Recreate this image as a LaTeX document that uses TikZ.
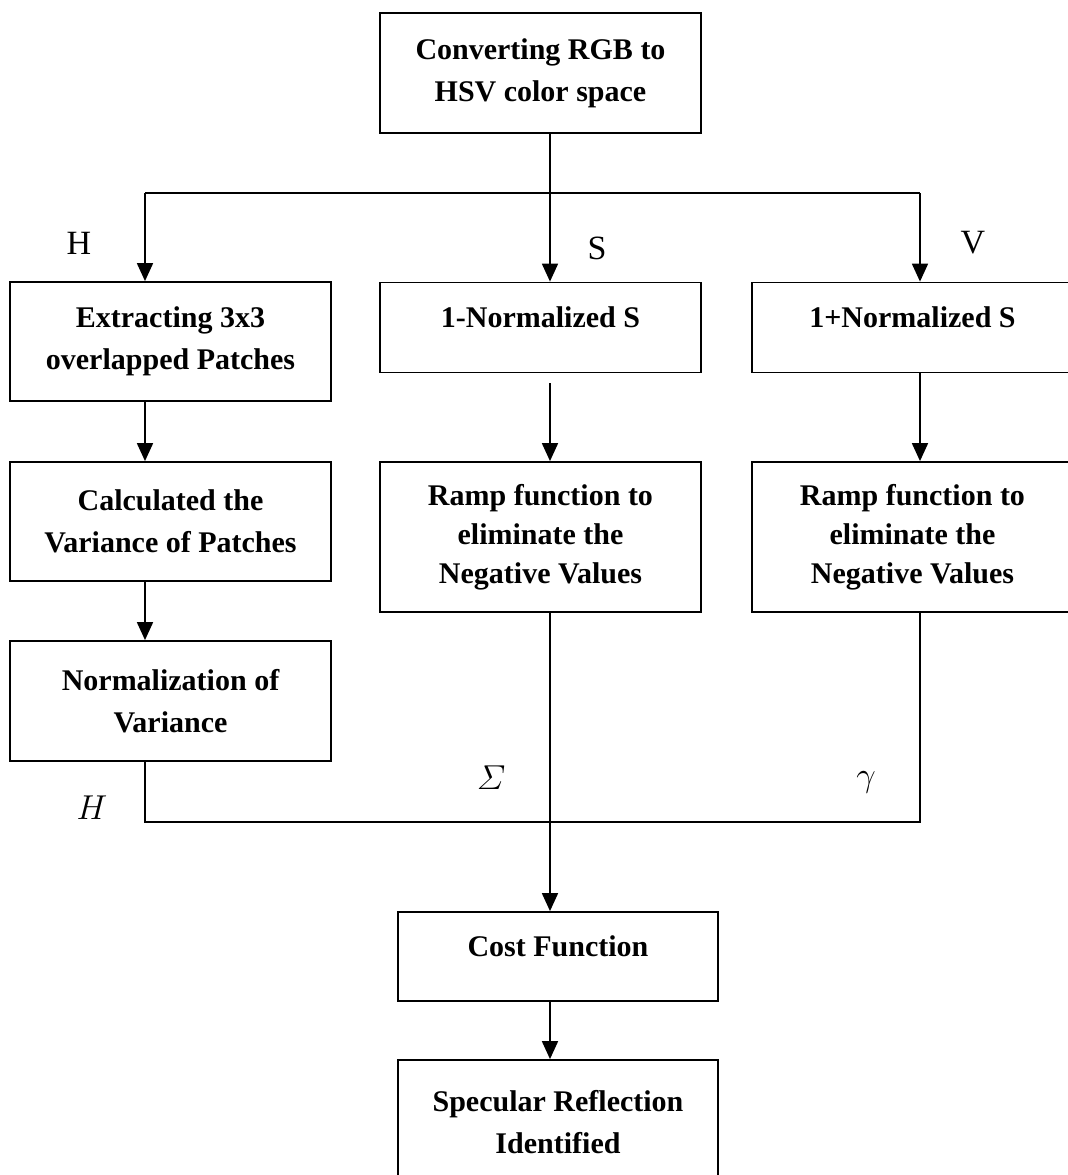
\documentclass[tikz,border=0pt]{standalone}
\usepackage{amsmath}
\usepackage{fontspec}
\setmainfont{Liberation Serif}
\usetikzlibrary{arrows.meta,positioning}

\begin{document}
\begin{tikzpicture}[
    x=0.5pt, y=-0.5pt,
    % Box and connector styles
    stage/.style={draw, line width=0.9pt, minimum width=160.5pt, align=center,
                  font=\fontsize{15}{21}\selectfont\bfseries},
    onebox/.style={stage, text depth=10pt},
    flow/.style={line width=0.9pt},
    arrow/.style={flow, -{Triangle[length=9pt,width=8pt]}},
    chan/.style={font=\fontsize{17}{20}\selectfont}
]

% Page frame
\useasboundingbox (0,0) rectangle (1068,1175);
\clip (0,0) rectangle (1068,1175);

% Boxes
\node[stage, minimum height=60pt] (rgb) at (540.5,73) {Converting RGB to\\HSV color space};
\node[stage, minimum height=59.5pt] (ext) at (170.5,341.5) {Extracting 3x3\\overlapped Patches};
\node[onebox, minimum height=45pt] (nors) at (540.5,327.5) {1-Normalized S};
\node[onebox, minimum height=45pt] (norv) at (912.5,327.5) {1+Normalized S};
\node[stage, minimum height=59.5pt] (calc) at (170.5,521.5) {Calculated the\\Variance of Patches};
\node[stage, minimum height=75pt, font=\fontsize{15}{19.5}\selectfont\bfseries] (ramps) at (540.5,537) {Ramp function to\\eliminate the\\Negative Values};
\node[stage, minimum height=75pt, font=\fontsize{15}{19.5}\selectfont\bfseries] (rampv) at (912.5,537) {Ramp function to\\eliminate the\\Negative Values};
\node[stage, minimum height=60pt] (norm) at (170.5,701) {Normalization of\\Variance};
\node[onebox, minimum width=160pt, minimum height=44.5pt] (cost) at (558,956.5) {Cost Function};
\node[stage, minimum width=160pt, minimum height=62pt] (spec) at (558,1122) {Specular Reflection\\Identified};

% Channel columns and joins
\coordinate (colH) at (145,193);
\coordinate (colS) at (550,193);
\coordinate (colV) at (920,193);
\coordinate (join) at (550,822);

% Split into H, S, V
\draw[flow] (rgb.south -| colS) -- (colS);
\draw[flow] (colH) -- (colV);
\draw[arrow] (colH) -- (colH |- ext.north);
\draw[arrow] (colS) -- (colS |- nors.north);
\draw[arrow] (colV) -- (colV |- norv.north);

% Column flows
\draw[arrow] (ext.south -| colH) -- (calc.north -| colH);
\draw[arrow] (calc.south -| colH) -- (norm.north -| colH);
\draw[arrow, shorten <=5pt] (nors.south -| colS) -- (ramps.north -| colS);
\draw[arrow] (norv.south -| colV) -- (rampv.north -| colV);

% Merge into the cost function
\draw[flow] (norm.south -| colH) -- (colH |- join) -- (colV |- join) -- (rampv.south -| colV);
\draw[arrow] (ramps.south -| colS) -- (cost.north -| colS);
\draw[arrow] (cost.south -| colS) -- (spec.north -| colS);

% Channel labels
\node[chan] (lblH) at (79,243) {H};
\node[chan] (lblS) at (597,248) {S};
\node[chan] (lblV) at (973,243) {V};
\node[chan] (lblSig) at (491,778) {$\varSigma$};
\node[chan] (lblGam) at (866,782) {$\gamma$};
\node[chan] (lblHi) at (92,808) {$H$};

\end{tikzpicture}
\end{document}
